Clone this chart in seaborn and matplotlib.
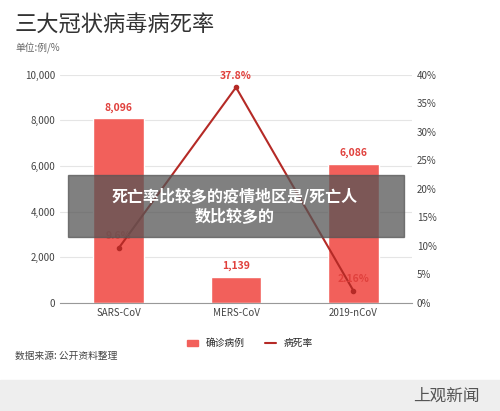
import matplotlib
matplotlib.use("Agg")
import matplotlib.pyplot as plt
import seaborn as sns
import pandas as pd
from matplotlib.patches import Rectangle
from matplotlib.lines import Line2D

categories = ["SARS-CoV", "MERS-CoV", "2019-nCoV"]
cases = [8096, 1139, 6086]
rates = [9.6, 37.8, 2.16]
case_labels = ["8,096", "1,139", "6,086"]
rate_labels = ["9.6%", "37.8%", "2.16%"]

sns.set_style("white")
plt.rcParams['font.family'] = ['Noto Sans CJK SC', 'DejaVu Sans']

fig = plt.figure(figsize=(5, 4.11), dpi=100)
ax = fig.add_axes([0.12, 0.263, 0.704, 0.555])
df = pd.DataFrame({"cat": categories, "cases": cases})
sns.barplot(data=df, x="cat", y="cases", color="#f2605b", saturation=1, width=0.43, ax=ax)
ax.set_ylim(0, 10000)
ax.set_yticks(range(0, 10001, 2000))
ax.set_yticklabels([f"{v:,}" for v in range(0, 10001, 2000)])
ax.set_xlabel(""); ax.set_ylabel("")
ax.tick_params(labelsize=7, colors="#444444", length=0)
for s in ["top", "right", "left"]:
    ax.spines[s].set_visible(False)
ax.spines["bottom"].set_color("#999999")
ax.yaxis.grid(True, color="#e5e5e5", lw=0.8)
ax.set_axisbelow(True)
for i, (v, l) in enumerate(zip(cases, case_labels)):
    ax.text(i, v + 250, l, ha="center", va="bottom", color="#e0403c", fontsize=7.5, fontweight="bold")

ax2 = ax.twinx()
ax2.plot(range(3), rates, color="#b52a26", lw=1.5, marker="o", ms=3)
ax2.set_ylim(0, 40)
ax2.set_yticks(range(0, 41, 5))
ax2.set_yticklabels([f"{v}%" for v in range(0, 41, 5)])
ax2.tick_params(labelsize=7, colors="#444444", length=0)
for s in ["top", "right", "left", "bottom"]:
    ax2.spines[s].set_visible(False)
for i, (v, l) in enumerate(zip(rates, rate_labels)):
    ax2.text(i, v + 1.2, l, ha="center", va="bottom", color="#e0403c", fontsize=7.5, fontweight="bold")
ax.set_xlim(-0.5, 2.5)

fig.text(0.03, 0.94, "三大冠状病毒病死率", fontsize=16, color="#333333", va="center", fontweight="medium")
fig.text(0.03, 0.883, "单位:例/%", fontsize=7, color="#666666", va="center")
fig.text(0.03, 0.135, "数据来源: 公开资料整理", fontsize=7, color="#444444", va="center")

h1 = Rectangle((0, 0), 1, 1, color="#f2605b")
h2 = Line2D([0], [0], color="#b52a26", lw=1.5)
fig.legend([h1, h2], ["确诊病例", "病死率"], loc="center", bbox_to_anchor=(0.5, 0.165),
           ncol=2, frameon=False, fontsize=7, handlelength=1.2, handleheight=0.6)

fig.patches.append(Rectangle((0, 0), 1, 0.075, transform=fig.transFigure, color="#eeeeee", zorder=0))
fig.text(0.96, 0.037, "上观新闻", fontsize=12, color="#555555", ha="right", va="center")

fig.patches.append(Rectangle((0.136, 0.423), 0.672, 0.151, transform=fig.transFigure,
                             color="#555555", alpha=0.75, zorder=10))
fig.text(0.47, 0.498, "死亡率比较多的疫情地区是/死亡人\n数比较多的", fontsize=11.5, color="white",
         fontweight="bold", ha="center", va="center", linespacing=1.3, zorder=11)

fig.savefig("out.png", dpi=100)
